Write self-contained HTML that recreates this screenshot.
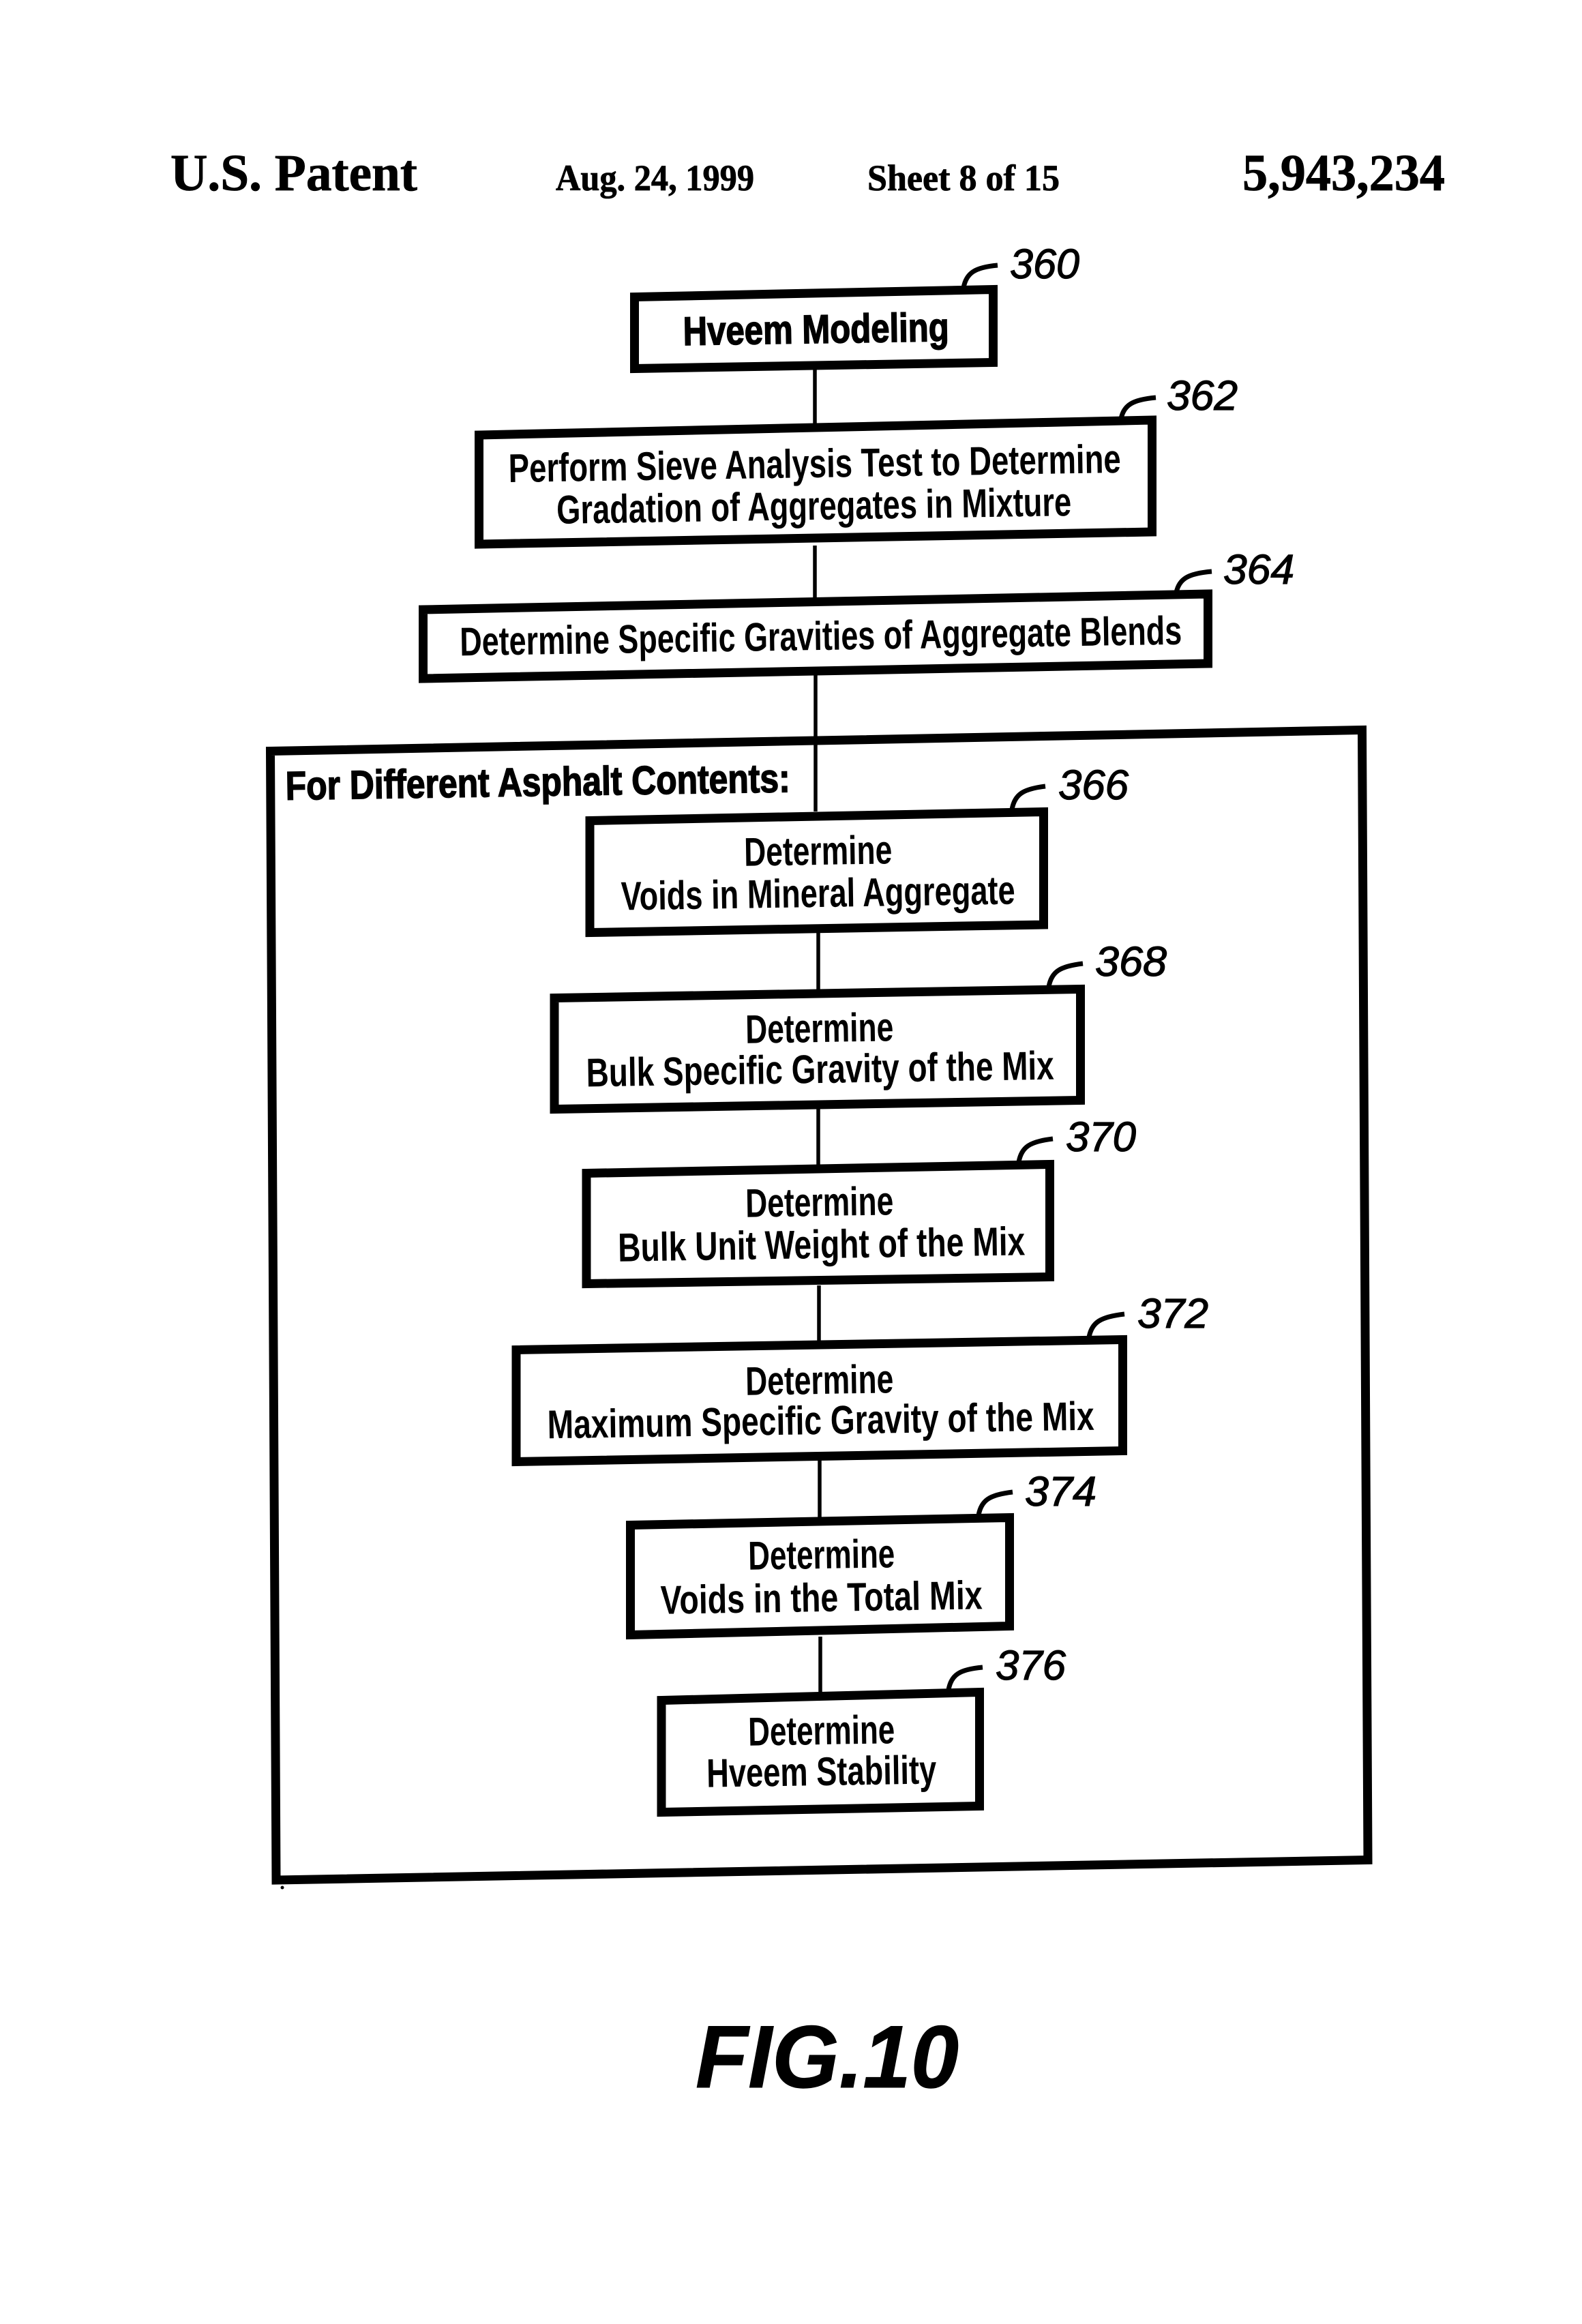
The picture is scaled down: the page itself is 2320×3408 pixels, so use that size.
<!DOCTYPE html>
<html><head><meta charset="utf-8"><style>
html,body{margin:0;padding:0;background:#fff}
svg{display:block}
.t{font-family:"Liberation Sans",sans-serif;font-size:59px;font-weight:bold;text-anchor:middle;fill:#000}
.b{stroke:#000;stroke-width:1.6}
.r{font-family:"Liberation Sans",sans-serif;font-style:italic;font-size:61px;fill:#000;stroke:#000;stroke-width:1.2}
.h{font-family:"Liberation Serif",serif;font-weight:bold;fill:#000;stroke:#000;stroke-width:.8}
</style></head><body>
<svg xmlns="http://www.w3.org/2000/svg" width="2320" height="3408" viewBox="0 0 2320 3408">
<rect width="2320" height="3408" fill="#fff"/>
<g class="h">
<text x="250" y="279" font-size="76" textLength="362" lengthAdjust="spacingAndGlyphs">U.S. Patent</text>
<text x="815" y="279" font-size="54" textLength="291" lengthAdjust="spacingAndGlyphs">Aug. 24, 1999</text>
<text x="1272" y="279" font-size="54" textLength="282" lengthAdjust="spacingAndGlyphs">Sheet 8 of 15</text>
<text x="1822" y="279" font-size="76" textLength="297" lengthAdjust="spacingAndGlyphs">5,943,234</text>
</g>
<g stroke="#000" stroke-width="5.5" fill="none">
<path d="M1195 540V625M1195 800V880M1196 990V1190M1200 1365V1455M1200 1625V1710M1201 1885V1970M1202 2140V2225M1203 2400V2482"/>
</g>
<g fill="none" stroke="#000" stroke-width="13">
<polygon points="396.5,1101.5 1997.5,1070.5 2006,2727.5 405,2757"/>
</g>
<g fill="#fff" stroke="#000" stroke-width="13">
<polygon points="930.5,435.5 1456.5,424.5 1456.5,531.5 930.5,540.5"/>
<polygon points="702.5,638 1689.5,616 1689.5,780 702.5,798"/>
<polygon points="620.5,894 1771.5,871 1771.5,973 620.5,995"/>
<polygon points="865,1203.5 1530.5,1190.5 1530.5,1356 865,1367.5"/>
<polygon points="813,1463.5 1584.5,1450.5 1584.5,1613.5 813,1626.5"/>
<polygon points="860,1720.5 1539.5,1707.5 1539.5,1872.5 860,1882.5"/>
<polygon points="757,1979.5 1646.5,1964.5 1646.5,2127.5 757,2143.5"/>
<polygon points="924.5,2236.5 1480.5,2225.5 1480.5,2384.5 924.5,2397.5"/>
<polygon points="970,2493.5 1436.5,2481.5 1436.5,2648.5 970,2657.5"/>
</g>
<g fill="none" stroke="#000" stroke-width="7">
<path d="M1413 422C1417 400 1430 392 1463 389"/>
<path d="M1644 614C1648 594 1661 586 1695 583"/>
<path d="M1725 869C1729 849 1742 841 1777 838"/>
<path d="M1484 1187C1488 1165 1500 1157 1533 1153"/>
<path d="M1538 1447C1542 1425 1554 1417 1588 1413"/>
<path d="M1494 1704C1498 1682 1510 1674 1544 1670"/>
<path d="M1597 1961C1601 1939 1614 1931 1649 1927"/>
<path d="M1435 2222C1439 2200 1451 2192 1485 2188"/>
<path d="M1391 2478C1395 2456 1407 2448 1441 2445"/>
</g>
<g class="r">
<text x="1481" y="408" textLength="102" lengthAdjust="spacingAndGlyphs">360</text>
<text x="1711" y="601" textLength="104" lengthAdjust="spacingAndGlyphs">362</text>
<text x="1794" y="856" textLength="104" lengthAdjust="spacingAndGlyphs">364</text>
<text x="1552" y="1172" textLength="103" lengthAdjust="spacingAndGlyphs">366</text>
<text x="1606" y="1431" textLength="105" lengthAdjust="spacingAndGlyphs">368</text>
<text x="1563" y="1688" textLength="103" lengthAdjust="spacingAndGlyphs">370</text>
<text x="1668" y="1947" textLength="104" lengthAdjust="spacingAndGlyphs">372</text>
<text x="1503" y="2208" textLength="105" lengthAdjust="spacingAndGlyphs">374</text>
<text x="1460" y="2463" textLength="103" lengthAdjust="spacingAndGlyphs">376</text>
</g>
<text class="t b" x="1197" y="503" textLength="390" lengthAdjust="spacingAndGlyphs" transform="rotate(-.9 1197 503)">Hveem Modeling</text>
<text class="t" x="1195" y="700" textLength="898" lengthAdjust="spacingAndGlyphs" transform="rotate(-.9 1195 700)">Perform Sieve Analysis Test to Determine</text>
<text class="t" x="1194" y="762" textLength="755" lengthAdjust="spacingAndGlyphs" transform="rotate(-.9 1194 762)">Gradation of Aggregates in Mixture</text>
<text class="t" x="1204" y="953" textLength="1059" lengthAdjust="spacingAndGlyphs" transform="rotate(-.9 1204 953)">Determine Specific Gravities of Aggregate Blends</text>
<text class="t b" x="789" y="1167" textLength="740" lengthAdjust="spacingAndGlyphs" transform="rotate(-.9 789 1167)">For Different Asphalt Contents:</text>
<text class="t" x="1200" y="1268" textLength="217" lengthAdjust="spacingAndGlyphs" transform="rotate(-.9 1200 1268)">Determine</text>
<text class="t" x="1200" y="1330" textLength="578" lengthAdjust="spacingAndGlyphs" transform="rotate(-.9 1200 1330)">Voids in Mineral Aggregate</text>
<text class="t" x="1202" y="1528" textLength="217" lengthAdjust="spacingAndGlyphs" transform="rotate(-.9 1202 1528)">Determine</text>
<text class="t" x="1203" y="1588" textLength="686" lengthAdjust="spacingAndGlyphs" transform="rotate(-.9 1203 1588)">Bulk Specific Gravity of the Mix</text>
<text class="t" x="1202" y="1783" textLength="217" lengthAdjust="spacingAndGlyphs" transform="rotate(-.9 1202 1783)">Determine</text>
<text class="t" x="1205" y="1845" textLength="597" lengthAdjust="spacingAndGlyphs" transform="rotate(-.9 1205 1845)">Bulk Unit Weight of the Mix</text>
<text class="t" x="1202" y="2044" textLength="217" lengthAdjust="spacingAndGlyphs" transform="rotate(-.9 1202 2044)">Determine</text>
<text class="t" x="1204" y="2103" textLength="802" lengthAdjust="spacingAndGlyphs" transform="rotate(-.9 1204 2103)">Maximum Specific Gravity of the Mix</text>
<text class="t" x="1205" y="2300" textLength="215" lengthAdjust="spacingAndGlyphs" transform="rotate(-.9 1205 2300)">Determine</text>
<text class="t" x="1205" y="2363" textLength="472" lengthAdjust="spacingAndGlyphs" transform="rotate(-.9 1205 2363)">Voids in the Total Mix</text>
<text class="t" x="1205" y="2558" textLength="215" lengthAdjust="spacingAndGlyphs" transform="rotate(-.9 1205 2558)">Determine</text>
<text class="t" x="1205" y="2618" textLength="337" lengthAdjust="spacingAndGlyphs" transform="rotate(-.9 1205 2618)">Hveem Stability</text>
<text x="1020" y="3061" font-family="'Liberation Sans',sans-serif" font-weight="bold" font-style="italic" font-size="130" textLength="386" lengthAdjust="spacingAndGlyphs" fill="#000" stroke="#000" stroke-width="1">FIG.10</text>
<circle cx="414" cy="2768" r="2.5" fill="#000"/>
</svg>
</body></html>
